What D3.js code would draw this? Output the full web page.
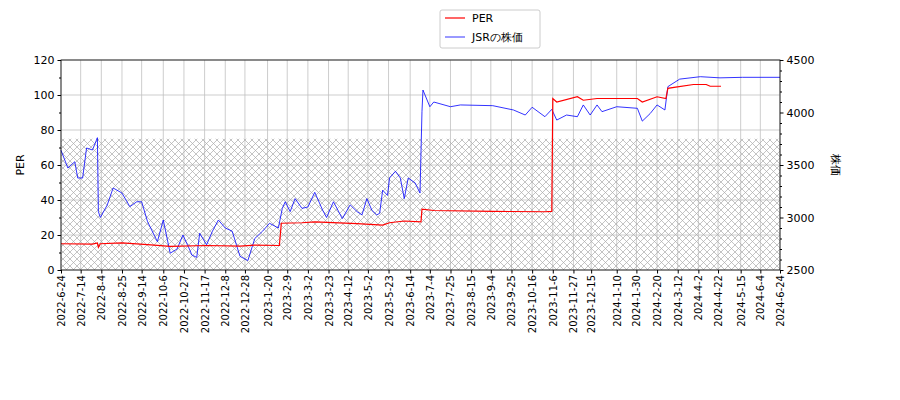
<!DOCTYPE html>
<html><head><meta charset="utf-8">
<script src="https://cdn.jsdelivr.net/npm/d3@7"></script>
<style>body{margin:0;background:#fff}text{font-family:"DejaVu Sans",sans-serif}</style>
</head><body><svg id="c" width="900" height="400"></svg>
<script>
const tickDates=["2022-6-24","2022-7-14","2022-8-4","2022-8-25","2022-9-14","2022-10-6","2022-10-27","2022-11-17","2022-12-8","2022-12-28","2023-1-20","2023-2-9","2023-3-2","2023-3-23","2023-4-12","2023-5-2","2023-5-23","2023-6-14","2023-7-4","2023-7-25","2023-8-15","2023-9-4","2023-9-25","2023-10-16","2023-11-6","2023-11-27","2023-12-15","2024-1-10","2024-1-30","2024-2-20","2024-3-12","2024-4-2","2024-4-22","2024-5-15","2024-6-4","2024-6-24"];
const priceDates=["2022-6-24","2022-7-1","2022-7-8","2022-7-11","2022-7-16","2022-7-20","2022-7-26","2022-7-31","2022-8-1","2022-8-3","2022-8-10","2022-8-16","2022-8-25","2022-9-2","2022-9-9","2022-9-14","2022-9-20","2022-9-30","2022-10-6","2022-10-13","2022-10-20","2022-10-26","2022-11-2","2022-11-4","2022-11-9","2022-11-12","2022-11-19","2022-11-25","2022-12-1","2022-12-8","2022-12-15","2022-12-23","2022-12-31","2023-1-7","2023-1-15","2023-1-22","2023-1-31","2023-2-4","2023-2-7","2023-2-12","2023-2-17","2023-2-24","2023-3-2","2023-3-9","2023-3-17","2023-3-21","2023-3-28","2023-4-6","2023-4-14","2023-4-21","2023-4-26","2023-5-1","2023-5-6","2023-5-11","2023-5-14","2023-5-17","2023-5-22","2023-5-24","2023-5-30","2023-6-4","2023-6-8","2023-6-12","2023-6-19","2023-6-24","2023-6-26","2023-6-27","2023-7-4","2023-7-8","2023-7-25","2023-8-4","2023-9-6","2023-9-27","2023-10-9","2023-10-16","2023-10-29","2023-11-5","2023-11-10","2023-11-20","2023-12-1","2023-12-7","2023-12-14","2023-12-21","2023-12-26","2024-1-10","2024-1-31","2024-2-5","2024-2-13","2024-2-20","2024-2-28","2024-3-2","2024-3-14","2024-4-4","2024-4-24","2024-5-17","2024-6-24"];
const priceValues=[3640,3471,3531,3376,3376,3662,3643,3760,3056,3000,3119,3281,3233,3103,3150,3150,2960,2770,2976,2660,2700,2833,2690,2643,2620,2850,2740,2870,2976,2900,2870,2630,2590,2800,2870,2945,2900,3087,3150,3056,3180,3087,3100,3240,3070,3000,3150,2990,3120,3056,3025,3180,3070,3025,3040,3260,3210,3376,3440,3376,3180,3376,3330,3233,4008,4214,4055,4100,4055,4072,4065,4024,3976,4050,3960,4030,3928,3976,3960,4072,3976,4072,4008,4055,4040,3918,3990,4072,4024,4246,4318,4341,4330,4335,4335];
const perDates=["2022-6-24","2022-7-26","2022-7-31","2022-8-1","2022-8-3","2022-8-25","2022-9-20","2022-10-13","2022-11-19","2022-12-23","2023-1-7","2023-2-1","2023-2-3","2023-2-24","2023-3-9","2023-4-21","2023-5-17","2023-5-24","2023-6-8","2023-6-25","2023-6-26","2023-7-8","2023-9-6","2023-10-29","2023-11-5","2023-11-6","2023-11-10","2023-12-1","2023-12-7","2023-12-21","2024-1-31","2024-2-5","2024-2-20","2024-2-29","2024-3-2","2024-3-10","2024-3-28","2024-4-10","2024-4-14","2024-4-25"];
const perValues=[15,14.8,15.5,13,15,15.5,14.5,13.5,14,13.7,14.2,14,26.7,27,27.5,26.5,25.7,27,28,27.5,34.8,34,33.5,33.3,33.5,98,96,99,97,98,98,96,99,98,103.8,104.5,106,106,105,105];
const perTicks=[0,20,40,60,80,100,120];
const priceTicks=[2500,3000,3500,4000,4500];

const P=d3.timeParse("%Y-%m-%d");
const svg=d3.select("#c");
const L=61,R=780,T=60,B=270;
const x=d3.scaleTime().domain([P("2022-6-24"),P("2024-6-24")]).range([L,R]);
const y1=d3.scaleLinear().domain([0,120]).range([B,T]);
const y2=d3.scaleLinear().domain([2500,4500]).range([B,T]);

const defs=svg.append("defs");
const pat=defs.append("pattern").attr("id","h").attr("patternUnits","userSpaceOnUse").attr("width",7).attr("height",7);
pat.append("path").attr("d","M0,0L7,7M7,0L0,7").attr("stroke","#aaa").attr("stroke-width",0.7);

const g=svg.append("g");
tickDates.forEach(d=>g.append("line").attr("x1",x(P(d))).attr("x2",x(P(d))).attr("y1",T).attr("y2",B).attr("stroke","#c0c0c0").attr("stroke-width",0.8));
perTicks.forEach(v=>g.append("line").attr("x1",L).attr("x2",R).attr("y1",y1(v)).attr("y2",y1(v)).attr("stroke","#c0c0c0").attr("stroke-width",0.8));
g.append("rect").attr("x",L).attr("width",R-L).attr("y",y1(75)).attr("height",y1(0)-y1(75)).attr("fill","url(#h)");

const pl=d3.line().x(d=>x(P(d[0]))).y(d=>y2(d[1]));
g.append("path").datum(priceDates.map((d,i)=>[d,priceValues[i]])).attr("d",pl).attr("fill","none").attr("stroke","blue").attr("stroke-width",0.8);
const rl=d3.line().x(d=>x(P(d[0]))).y(d=>y1(d[1]));
g.append("path").datum(perDates.map((d,i)=>[d,perValues[i]])).attr("d",rl).attr("fill","none").attr("stroke","red").attr("stroke-width",1.2);

g.append("rect").attr("x",L).attr("y",T).attr("width",R-L).attr("height",B-T).attr("fill","none").attr("stroke","#000").attr("stroke-width",0.8);

const ax=svg.append("g").attr("transform",`translate(0,${B})`).call(d3.axisBottom(x).tickValues(tickDates.map(P)).tickFormat((d,i)=>tickDates[i]).tickSize(3.5));
ax.selectAll("text").attr("transform","rotate(-90)").attr("text-anchor","end").attr("x",-5).attr("y",0).attr("dy","0.35em").style("font-size","10px").attr("fill","#000");
const ay=svg.append("g").attr("transform",`translate(${L},0)`).call(d3.axisLeft(y1).tickValues(perTicks).tickSize(3.5));
svg.append("g").attr("transform",`translate(${L},0)`).call(d3.axisLeft(y1).tickValues(d3.range(10,120,20)).tickSize(2).tickFormat(""));
const ay2=svg.append("g").attr("transform",`translate(${R},0)`).call(d3.axisRight(y2).tickValues(priceTicks).tickSize(3.5).tickFormat(d3.format("d")));
svg.append("g").attr("transform",`translate(${R},0)`).call(d3.axisRight(y2).tickValues(d3.range(2600,4500,100).filter(v=>v%500)).tickSize(2).tickFormat(""));
svg.selectAll(".domain").remove();
[ay,ay2].forEach(a=>a.selectAll("text").style("font-size","11px").attr("fill","#000"));

svg.append("text").attr("transform","translate(24,165) rotate(-90)").attr("text-anchor","middle").style("font-size","11px").text("PER");
svg.append("text").attr("transform","translate(832,165) rotate(90)").attr("text-anchor","middle").style("font-size","11px").text("株価");

const lg=svg.append("g");
lg.append("rect").attr("x",440).attr("y",10).attr("width",100).attr("height",38).attr("fill","#fff").attr("stroke","#ccc").attr("rx",2);
lg.append("line").attr("x1",445).attr("x2",465).attr("y1",18).attr("y2",18).attr("stroke","red").attr("stroke-width",1.2);
lg.append("text").attr("x",472).attr("y",22).style("font-size","11px").text("PER");
lg.append("line").attr("x1",445).attr("x2",465).attr("y1",37).attr("y2",37).attr("stroke","blue").attr("stroke-width",0.8);
lg.append("text").attr("x",472).attr("y",41).style("font-size","11px").text("JSRの株価");
</script></body></html>
